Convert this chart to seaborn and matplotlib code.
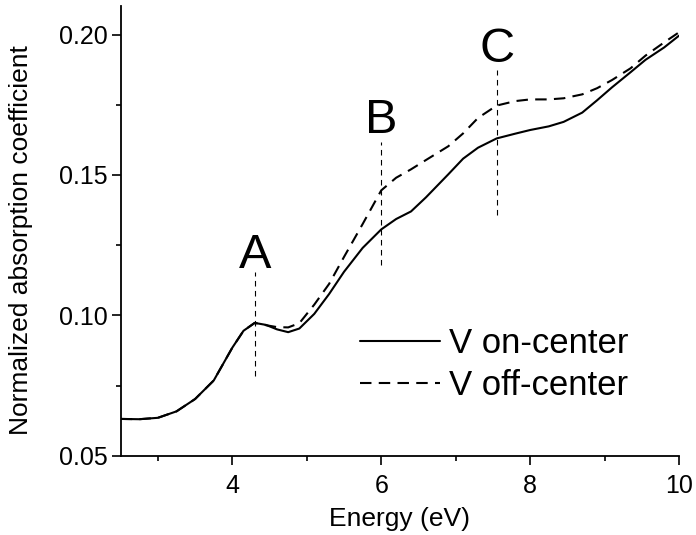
import numpy as np
import pandas as pd
import matplotlib
matplotlib.use("Agg")
import matplotlib.pyplot as plt
import seaborn as sns
from matplotlib.ticker import MultipleLocator

energy = [2.5, 2.75, 3.0, 3.25, 3.5, 3.75, 4.0, 4.15, 4.3, 4.45, 4.6, 4.75, 4.9,
          5.1, 5.3, 5.5, 5.75, 6.0, 6.2, 6.4, 6.6, 6.9, 7.1, 7.3, 7.55, 7.8,
          8.0, 8.25, 8.45, 8.7, 8.9, 9.1, 9.35, 9.55, 9.8, 10.0]
on_center = [0.0631, 0.0630, 0.0635, 0.0658, 0.0702, 0.0768, 0.0885, 0.0945,
             0.0973, 0.0966, 0.0950, 0.0940, 0.0953, 0.1005, 0.1076, 0.1155,
             0.1240, 0.1306, 0.1343, 0.1370, 0.1420, 0.1502, 0.1558, 0.1597,
             0.1630, 0.1647, 0.1660, 0.1673, 0.1689, 0.1722, 0.1766, 0.1812,
             0.1866, 0.1910, 0.1954, 0.1996]
off_center = [0.0631, 0.0630, 0.0635, 0.0658, 0.0702, 0.0768, 0.0885, 0.0945,
              0.0973, 0.0965, 0.0958, 0.0957, 0.0972, 0.1038, 0.1112, 0.1208,
              0.1325, 0.1445, 0.1490, 0.1520, 0.1553, 0.1602, 0.1648, 0.1703,
              0.1747, 0.1763, 0.1769, 0.1769, 0.1773, 0.1787, 0.1809, 0.1838,
              0.1880, 0.1925, 0.1972, 0.2008]
series_names = ["V on-center", "V off-center"]

peak_labels = ["A", "B", "C"]
peak_x = [4.30, 6.00, 7.56]
peak_line_lo = [0.0785, 0.1179, 0.1357]
peak_line_hi = [0.1155, 0.1617, 0.1873]
peak_text_y = [0.1167, 0.1648, 0.1904]

xticks = [4, 6, 8, 10]
yticks = [0.05, 0.10, 0.15, 0.20]

df = pd.DataFrame({
    "Energy": energy * 2,
    "Absorption": on_center + off_center,
    "Series": [series_names[0]] * len(energy) + [series_names[1]] * len(energy),
})

sns.set_style("ticks", rc={"text.color": "black", "axes.labelcolor": "black",
                           "xtick.color": "black", "ytick.color": "black",
                           "axes.edgecolor": "black"})
plt.rcParams["font.family"] = ["Liberation Sans", "DejaVu Sans"]

fig = plt.figure(figsize=(6.96, 5.35), dpi=100)
ax = fig.add_axes([0.1734, 0.1482, 0.9756 - 0.1734, 0.9879 - 0.1482])

sns.lineplot(data=df, x="Energy", y="Absorption", style="Series",
             dashes={series_names[0]: "", series_names[1]: (5.5, 3.5)},
             color="black", linewidth=1.5, ax=ax, legend=True)

for lab, px, lo, hi, ty in zip(peak_labels, peak_x, peak_line_lo, peak_line_hi, peak_text_y):
    ax.plot([px, px], [lo, hi], color="black", linewidth=0.8,
            linestyle=(0, (5, 4)))
    ax.text(px, ty, lab, fontsize=35, ha="center", va="baseline", color="black")

ax.set_xlim(2.5, 10)
ax.set_ylim(0.05, 0.21)
ax.set_xticks(xticks)
ax.set_yticks(yticks)
ax.set_xticklabels([str(t) for t in xticks])
ax.set_yticklabels([f"{t:.2f}" for t in yticks])
ax.xaxis.set_minor_locator(MultipleLocator(1))
ax.yaxis.set_minor_locator(MultipleLocator(0.025))
ax.tick_params(which="major", length=6.5, width=1.2, labelsize=18, direction="out",
               colors="black")
ax.tick_params(which="minor", length=3.3, width=1.2, direction="out", colors="black")
ax.tick_params(axis="x", which="major", pad=7)
ax.tick_params(axis="y", which="major", pad=3)
for s in ["left", "bottom"]:
    ax.spines[s].set_linewidth(1.3)
    ax.spines[s].set_color("black")
sns.despine(ax=ax)

ax.set_xlabel("Energy (eV)", fontsize=19, color="black")
ax.set_ylabel("Normalized absorption coefficient", fontsize=19, color="black")
ax.xaxis.set_label_coords(0.5, -0.115)
ax.yaxis.set_label_coords(-0.157, 0.48)

leg = ax.legend(loc="upper left", bbox_to_anchor=(0.4286, 0.2855), frameon=False,
                fontsize=25, handlelength=2.3, handletextpad=0.25,
                labelspacing=0.26, borderpad=0, borderaxespad=0)
for line in leg.get_lines():
    line.set_linewidth(1.5)
for t in leg.get_texts():
    t.set_color("black")

fig.savefig("out.png", dpi=100)
